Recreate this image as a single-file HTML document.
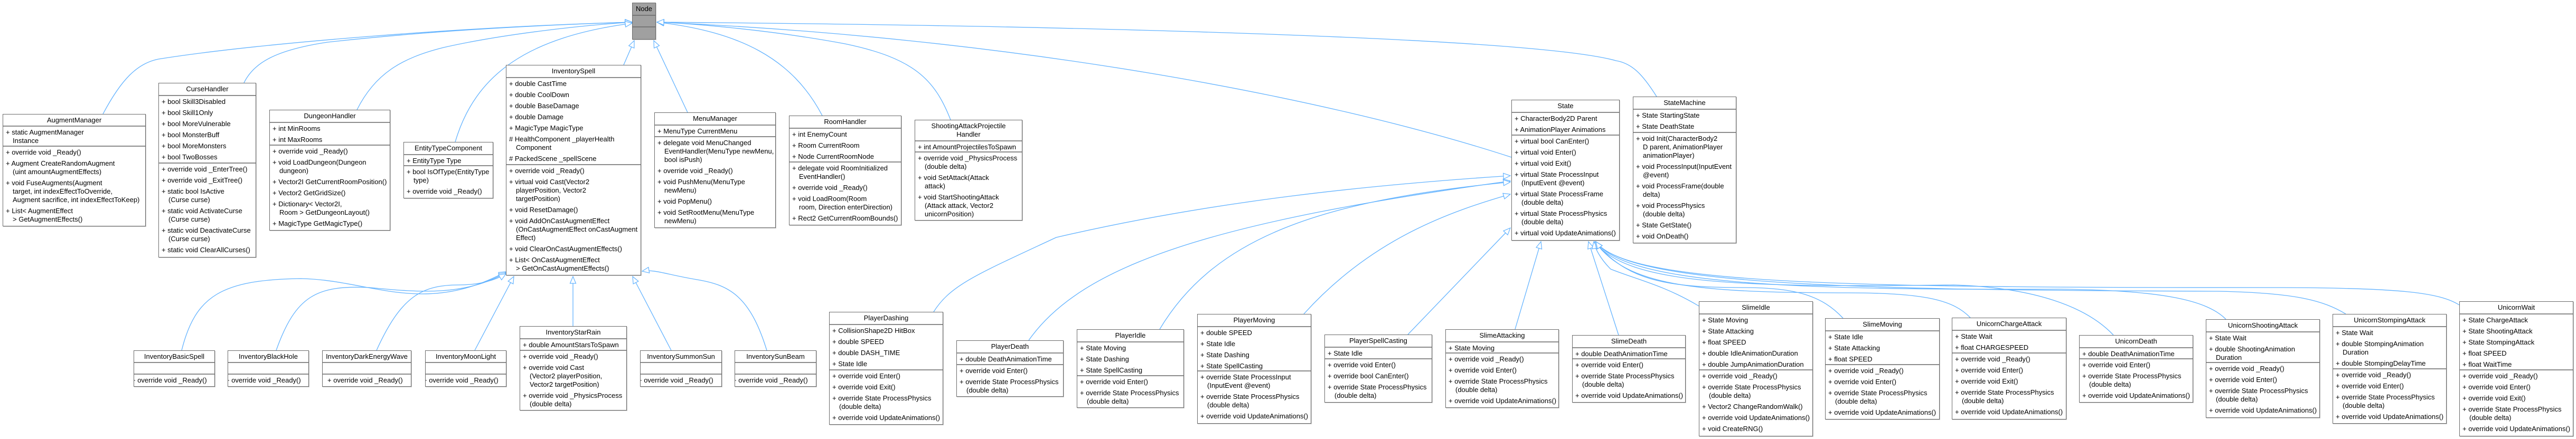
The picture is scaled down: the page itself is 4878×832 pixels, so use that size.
<!DOCTYPE html>
<html><head><meta charset="utf-8"><style>
*{box-sizing:border-box;margin:0;padding:0}
body{width:4878px;height:832px;background:#fff;position:relative;overflow:hidden;font-family:"Liberation Sans",Arial,sans-serif}
svg{position:absolute;left:0;top:0}
.b{position:absolute;background:#fff;border:1px solid #6a6a6a;box-shadow:1px 1px 0 #c8c8c8;font-size:13px;color:#000;overflow:hidden}
.h{display:flex;align-items:center;justify-content:center;text-align:center;border-bottom:2px solid #8c8c8c;line-height:16px;white-space:nowrap}
.s{border-bottom:2px solid #8c8c8c}
.i{padding:2.5px 2px 2.5px 18px;text-indent:-13px;line-height:16px;white-space:nowrap}
.g{background:#a0a0a0}
.g .h,.g .s{border-color:#777}
</style></head><body>
<svg width="4878" height="832">
<defs><marker id="a" markerWidth="16" markerHeight="14" refX="14" refY="7" orient="auto" markerUnits="userSpaceOnUse"><path d="M1,1.5 L14,7 L1,12.5 Z" fill="#fff" stroke="#63b3ff" stroke-width="1.2"/></marker></defs>
<g fill="none" stroke="#63b3ff" stroke-width="1.3" marker-end="url(#a)">
<path d="M195,216 C230,150 260,120 300,112 C500,80 900,50 1197,42"/>
<path d="M462,157 C480,120 520,95 620,80 C800,60 1000,48 1197,42"/>
<path d="M676,208 C710,140 760,110 840,90 C950,65 1100,48 1197,42"/>
<path d="M862,269 C900,140 1000,70 1197,44"/>
<path d="M1181,123 L1201,77"/>
<path d="M1302,213 L1238,77"/>
<path d="M1557,219 C1500,110 1400,60 1244,42"/>
<path d="M1800,227 C1770,150 1730,110 1600,83 C1450,55 1300,44 1244,42"/>
<path d="M2862,298 C2500,180 1900,70 1244,42"/>
<path d="M3137,183 C3110,140 3090,120 3060,115 C2900,70 2000,48 1244,42"/>
<path d="M344,664 C370,560 420,530 570,528 C700,530 800,600 958,515"/>
<path d="M523,664 C560,560 600,540 700,545 C800,555 880,560 958,517"/>
<path d="M713,664 C760,560 800,540 870,540 C910,540 940,530 958,519"/>
<path d="M899,664 L973,524"/>
<path d="M1085,618 L1085,524"/>
<path d="M1271,664 L1198,524"/>
<path d="M1452,664 C1420,560 1380,540 1320,530 C1260,520 1240,510 1216,514"/>
<path d="M1768,591 C1800,540 1850,520 2000,450 C2300,380 2600,350 2860,333"/>
<path d="M1948,645 C2050,500 2300,420 2860,343"/>
<path d="M2196,624 C2300,450 2500,380 2860,345"/>
<path d="M2469,595 C2600,450 2750,400 2860,368"/>
<path d="M2666,634 L2860,432"/>
<path d="M2869,624 L2918,458"/>
<path d="M3065,635 L3008,458"/>
<path d="M3217,580 C3150,540 3100,530 3050,510 C3030,490 3020,470 3018,458"/>
<path d="M3490,603 C3450,560 3400,545 3300,545 C3150,545 3080,530 3020,458"/>
<path d="M3731,602 C3700,570 3650,555 3500,555 C3200,555 3080,540 3020,458"/>
<path d="M4002,635 C3950,580 3850,545 3700,540 C3300,545 3080,540 3020,458"/>
<path d="M4215,605 C4180,570 4100,550 3900,548 C3400,550 3080,540 3022,458"/>
<path d="M4442,595 C4400,570 4350,555 4200,552 C3500,550 3080,540 3022,458"/>
<path d="M4657,578 C4620,555 4550,545 4300,545 C3500,545 3080,540 3022,458"/>
</g></svg>

<div class="b g" style="left:1197px;top:5px;width:45px;height:70px"><div class="h" style="height:24px">Node</div><div class="s" style="height:22px"></div></div>

<div class="b" style="left:5px;top:216px;width:271px;height:213px"><div class="h" style="height:23px">AugmentManager</div><div class="s" style="height:38px"><div class="i">+ static AugmentManager<br>Instance</div></div><div>
<div class="i">+ override void _Ready()</div><div class="i">+ Augment CreateRandomAugment<br>(uint amountAugmentEffects)</div><div class="i">+ void FuseAugments(Augment<br>target, int indexEffectToOverride,<br>Augment sacrifice, int indexEffectToKeep)</div><div class="i">+ List&lt; AugmentEffect<br>&gt; GetAugmentEffects()</div></div></div>

<div class="b" style="left:300px;top:157px;width:185px;height:331px"><div class="h" style="height:24px">CurseHandler</div><div class="s" style="height:128px"><div class="i">+ bool Skill3Disabled</div><div class="i">+ bool Skill1Only</div><div class="i">+ bool MoreVulnerable</div><div class="i">+ bool MonsterBuff</div><div class="i">+ bool MoreMonsters</div><div class="i">+ bool TwoBosses</div></div><div>
<div class="i">+ override void _EnterTree()</div><div class="i">+ override void _ExitTree()</div><div class="i">+ static bool IsActive<br>(Curse curse)</div><div class="i">+ static void ActivateCurse<br>(Curse curse)</div><div class="i">+ static void DeactivateCurse<br>(Curse curse)</div><div class="i">+ static void ClearAllCurses()</div></div></div>

<div class="b" style="left:510px;top:208px;width:229px;height:229px"><div class="h" style="height:24px">DungeonHandler</div><div class="s" style="height:43px"><div class="i">+ int MinRooms</div><div class="i">+ int MaxRooms</div></div><div>
<div class="i">+ override void _Ready()</div><div class="i">+ void LoadDungeon(Dungeon<br>dungeon)</div><div class="i">+ Vector2I GetCurrentRoomPosition()</div><div class="i">+ Vector2 GetGridSize()</div><div class="i">+ Dictionary&lt; Vector2I,<br>Room &gt; GetDungeonLayout()</div><div class="i">+ MagicType GetMagicType()</div></div></div>

<div class="b" style="left:764px;top:269px;width:170px;height:107px"><div class="h" style="height:24px">EntityTypeComponent</div><div class="s" style="height:21px"><div class="i">+ EntityType Type</div></div><div>
<div class="i">+ bool IsOfType(EntityType<br>type)</div><div class="i">+ override void _Ready()</div></div></div>

<div class="b" style="left:958px;top:123px;width:256px;height:399px"><div class="h" style="height:24px">InventorySpell</div><div class="s" style="height:165px"><div class="i">+ double CastTime</div><div class="i">+ double CoolDown</div><div class="i">+ double BaseDamage</div><div class="i">+ double Damage</div><div class="i">+ MagicType MagicType</div><div class="i"># HealthComponent _playerHealth<br>Component</div><div class="i"># PackedScene _spellScene</div></div><div>
<div class="i">+ override void _Ready()</div><div class="i">+ virtual void Cast(Vector2<br>playerPosition, Vector2<br>targetPosition)</div><div class="i">+ void ResetDamage()</div><div class="i">+ void AddOnCastAugmentEffect<br>(OnCastAugmentEffect onCastAugment<br>Effect)</div><div class="i">+ void ClearOnCastAugmentEffects()</div><div class="i">+ List&lt; OnCastAugmentEffect<br>&gt; GetOnCastAugmentEffects()</div></div></div>

<div class="b" style="left:1239px;top:213px;width:230px;height:219px"><div class="h" style="height:24px">MenuManager</div><div class="s" style="height:22px"><div class="i">+ MenuType CurrentMenu</div></div><div>
<div class="i">+ delegate void MenuChanged<br>EventHandler(MenuType newMenu,<br>bool isPush)</div><div class="i">+ override void _Ready()</div><div class="i">+ void PushMenu(MenuType<br>newMenu)</div><div class="i">+ void PopMenu()</div><div class="i">+ void SetRootMenu(MenuType<br>newMenu)</div></div></div>

<div class="b" style="left:1494px;top:219px;width:213px;height:208px"><div class="h" style="height:24px">RoomHandler</div><div class="s" style="height:64px"><div class="i">+ int EnemyCount</div><div class="i">+ Room CurrentRoom</div><div class="i">+ Node CurrentRoomNode</div></div><div>
<div class="i">+ delegate void RoomInitialized<br>EventHandler()</div><div class="i">+ override void _Ready()</div><div class="i">+ void LoadRoom(Room<br>room, Direction enterDirection)</div><div class="i">+ Rect2 GetCurrentRoomBounds()</div></div></div>

<div class="b" style="left:1732px;top:227px;width:204px;height:191px"><div class="h" style="height:40px">ShootingAttackProjectile<br>Handler</div><div class="s" style="height:21px"><div class="i">+ int AmountProjectilesToSpawn</div></div><div>
<div class="i">+ override void _PhysicsProcess<br>(double delta)</div><div class="i">+ void SetAttack(Attack<br>attack)</div><div class="i">+ void StartShootingAttack<br>(Attack attack, Vector2<br>unicornPosition)</div></div></div>

<div class="b" style="left:2862px;top:189px;width:205px;height:267px"><div class="h" style="height:24px">State</div><div class="s" style="height:43px"><div class="i">+ CharacterBody2D Parent</div><div class="i">+ AnimationPlayer Animations</div></div><div>
<div class="i">+ virtual bool CanEnter()</div><div class="i">+ virtual void Enter()</div><div class="i">+ virtual void Exit()</div><div class="i">+ virtual State ProcessInput<br>(InputEvent @event)</div><div class="i">+ virtual State ProcessFrame<br>(double delta)</div><div class="i">+ virtual State ProcessPhysics<br>(double delta)</div><div class="i">+ virtual void UpdateAnimations()</div></div></div>

<div class="b" style="left:3092px;top:183px;width:196px;height:278px"><div class="h" style="height:24px">StateMachine</div><div class="s" style="height:44px"><div class="i">+ State StartingState</div><div class="i">+ State DeathState</div></div><div>
<div class="i">+ void Init(CharacterBody2<br>D parent, AnimationPlayer<br>animationPlayer)</div><div class="i">+ void ProcessInput(InputEvent<br>@event)</div><div class="i">+ void ProcessFrame(double<br>delta)</div><div class="i">+ void ProcessPhysics<br>(double delta)</div><div class="i">+ State GetState()</div><div class="i">+ void OnDeath()</div></div></div>

<div class="b" style="left:253px;top:664px;width:154px;height:69px"><div class="h" style="height:23px">InventoryBasicSpell</div><div class="s" style="height:22px"></div><div class="i" style="padding-left:8px">+ override void _Ready()</div></div>
<div class="b" style="left:431px;top:664px;width:154px;height:69px"><div class="h" style="height:23px">InventoryBlackHole</div><div class="s" style="height:22px"></div><div class="i" style="padding-left:8px">+ override void _Ready()</div></div>
<div class="b" style="left:610px;top:664px;width:169px;height:69px"><div class="h" style="height:23px">InventoryDarkEnergyWave</div><div class="s" style="height:22px"></div><div class="i" style="padding-left:22px">+ override void _Ready()</div></div>
<div class="b" style="left:805px;top:664px;width:154px;height:69px"><div class="h" style="height:23px">InventoryMoonLight</div><div class="s" style="height:22px"></div><div class="i" style="padding-left:8px">+ override void _Ready()</div></div>

<div class="b" style="left:984px;top:618px;width:203px;height:160px"><div class="h" style="height:24px">InventoryStarRain</div><div class="s" style="height:22px"><div class="i">+ double AmountStarsToSpawn</div></div><div>
<div class="i">+ override void _Ready()</div><div class="i">+ override void Cast<br>(Vector2 playerPosition,<br>Vector2 targetPosition)</div><div class="i">+ override void _PhysicsProcess<br>(double delta)</div></div></div>

<div class="b" style="left:1212px;top:664px;width:155px;height:69px"><div class="h" style="height:23px">InventorySummonSun</div><div class="s" style="height:22px"></div><div class="i" style="padding-left:8px">+ override void _Ready()</div></div>
<div class="b" style="left:1391px;top:664px;width:155px;height:69px"><div class="h" style="height:23px">InventorySunBeam</div><div class="s" style="height:22px"></div><div class="i" style="padding-left:8px">+ override void _Ready()</div></div>

<div class="b" style="left:1570px;top:591px;width:216px;height:214px"><div class="h" style="height:24px">PlayerDashing</div><div class="s" style="height:86px"><div class="i">+ CollisionShape2D HitBox</div><div class="i">+ double SPEED</div><div class="i">+ double DASH_TIME</div><div class="i">+ State Idle</div></div><div>
<div class="i">+ override void Enter()</div><div class="i">+ override void Exit()</div><div class="i">+ override State ProcessPhysics<br>(double delta)</div><div class="i">+ override void UpdateAnimations()</div></div></div>

<div class="b" style="left:1811px;top:645px;width:203px;height:107px"><div class="h" style="height:24px">PlayerDeath</div><div class="s" style="height:22px"><div class="i">+ double DeathAnimationTime</div></div><div>
<div class="i">+ override void Enter()</div><div class="i">+ override State ProcessPhysics<br>(double delta)</div></div></div>

<div class="b" style="left:2039px;top:624px;width:203px;height:149px"><div class="h" style="height:24px">PlayerIdle</div><div class="s" style="height:64px"><div class="i">+ State Moving</div><div class="i">+ State Dashing</div><div class="i">+ State SpellCasting</div></div><div>
<div class="i">+ override void Enter()</div><div class="i">+ override State ProcessPhysics<br>(double delta)</div></div></div>

<div class="b" style="left:2267px;top:595px;width:216px;height:208px"><div class="h" style="height:24px">PlayerMoving</div><div class="s" style="height:84px"><div class="i">+ double SPEED</div><div class="i">+ State Idle</div><div class="i">+ State Dashing</div><div class="i">+ State SpellCasting</div></div><div>
<div class="i">+ override State ProcessInput<br>(InputEvent @event)</div><div class="i">+ override State ProcessPhysics<br>(double delta)</div><div class="i">+ override void UpdateAnimations()</div></div></div>

<div class="b" style="left:2508px;top:634px;width:204px;height:129px"><div class="h" style="height:24px">PlayerSpellCasting</div><div class="s" style="height:22px"><div class="i">+ State Idle</div></div><div>
<div class="i">+ override void Enter()</div><div class="i">+ override bool CanEnter()</div><div class="i">+ override State ProcessPhysics<br>(double delta)</div></div></div>

<div class="b" style="left:2737px;top:624px;width:215px;height:149px"><div class="h" style="height:24px">SlimeAttacking</div><div class="s" style="height:21px"><div class="i">+ State Moving</div></div><div>
<div class="i">+ override void _Ready()</div><div class="i">+ override void Enter()</div><div class="i">+ override State ProcessPhysics<br>(double delta)</div><div class="i">+ override void UpdateAnimations()</div></div></div>

<div class="b" style="left:2977px;top:635px;width:215px;height:128px"><div class="h" style="height:24px">SlimeDeath</div><div class="s" style="height:21px"><div class="i">+ double DeathAnimationTime</div></div><div>
<div class="i">+ override void Enter()</div><div class="i">+ override State ProcessPhysics<br>(double delta)</div><div class="i">+ override void UpdateAnimations()</div></div></div>

<div class="b" style="left:3217px;top:571px;width:216px;height:256px"><div class="h" style="height:24px">SlimeIdle</div><div class="s" style="height:106px"><div class="i">+ State Moving</div><div class="i">+ State Attacking</div><div class="i">+ float SPEED</div><div class="i">+ double IdleAnimationDuration</div><div class="i">+ double JumpAnimationDuration</div></div><div>
<div class="i">+ override void _Ready()</div><div class="i">+ override State ProcessPhysics<br>(double delta)</div><div class="i">+ Vector2 ChangeRandomWalk()</div><div class="i">+ override void UpdateAnimations()</div><div class="i">+ void CreateRNG()</div></div></div>

<div class="b" style="left:3456px;top:603px;width:217px;height:192px"><div class="h" style="height:24px">SlimeMoving</div><div class="s" style="height:64px"><div class="i">+ State Idle</div><div class="i">+ State Attacking</div><div class="i">+ float SPEED</div></div><div>
<div class="i">+ override void _Ready()</div><div class="i">+ override void Enter()</div><div class="i">+ override State ProcessPhysics<br>(double delta)</div><div class="i">+ override void UpdateAnimations()</div></div></div>

<div class="b" style="left:3696px;top:602px;width:217px;height:193px"><div class="h" style="height:24px">UnicornChargeAttack</div><div class="s" style="height:43px"><div class="i">+ State Wait</div><div class="i">+ float CHARGESPEED</div></div><div>
<div class="i">+ override void _Ready()</div><div class="i">+ override void Enter()</div><div class="i">+ override void Exit()</div><div class="i">+ override State ProcessPhysics<br>(double delta)</div><div class="i">+ override void UpdateAnimations()</div></div></div>

<div class="b" style="left:3937px;top:635px;width:216px;height:128px"><div class="h" style="height:24px">UnicornDeath</div><div class="s" style="height:21px"><div class="i">+ double DeathAnimationTime</div></div><div>
<div class="i">+ override void Enter()</div><div class="i">+ override State ProcessPhysics<br>(double delta)</div><div class="i">+ override void UpdateAnimations()</div></div></div>

<div class="b" style="left:4177px;top:605px;width:216px;height:187px"><div class="h" style="height:24px">UnicornShootingAttack</div><div class="s" style="height:58px"><div class="i">+ State Wait</div><div class="i">+ double ShootingAnimation<br>Duration</div></div><div>
<div class="i">+ override void _Ready()</div><div class="i">+ override void Enter()</div><div class="i">+ override State ProcessPhysics<br>(double delta)</div><div class="i">+ override void UpdateAnimations()</div></div></div>

<div class="b" style="left:4417px;top:595px;width:216px;height:208px"><div class="h" style="height:24px">UnicornStompingAttack</div><div class="s" style="height:80px"><div class="i">+ State Wait</div><div class="i">+ double StompingAnimation<br>Duration</div><div class="i">+ double StompingDelayTime</div></div><div>
<div class="i">+ override void _Ready()</div><div class="i">+ override void Enter()</div><div class="i">+ override State ProcessPhysics<br>(double delta)</div><div class="i">+ override void UpdateAnimations()</div></div></div>

<div class="b" style="left:4657px;top:571px;width:216px;height:256px"><div class="h" style="height:24px">UnicornWait</div><div class="s" style="height:106px"><div class="i">+ State ChargeAttack</div><div class="i">+ State ShootingAttack</div><div class="i">+ State StompingAttack</div><div class="i">+ float SPEED</div><div class="i">+ float WaitTime</div></div><div>
<div class="i">+ override void _Ready()</div><div class="i">+ override void Enter()</div><div class="i">+ override void Exit()</div><div class="i">+ override State ProcessPhysics<br>(double delta)</div><div class="i">+ override void UpdateAnimations()</div></div></div>

</body></html>
